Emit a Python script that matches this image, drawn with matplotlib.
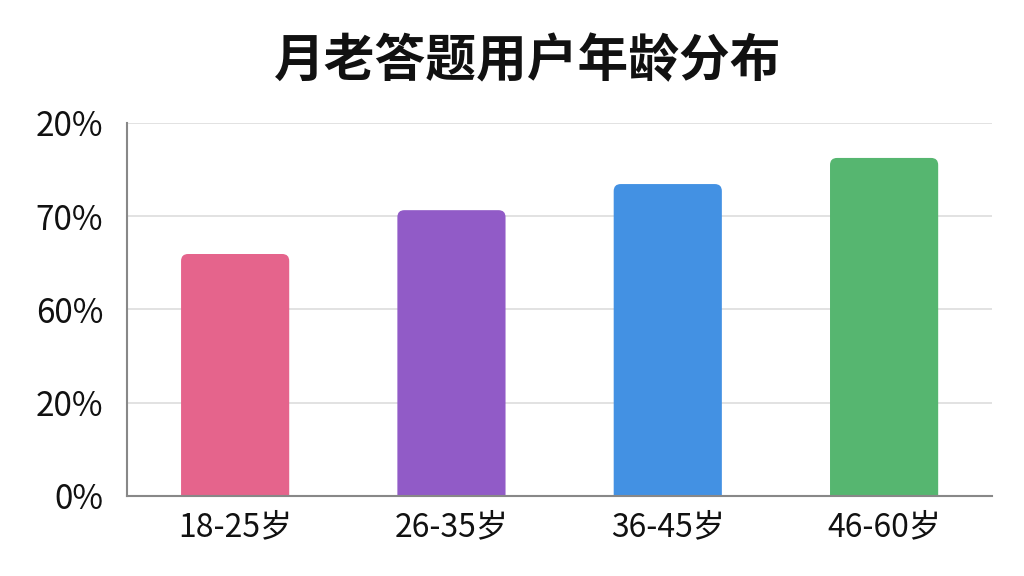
import matplotlib
matplotlib.use("Agg")
import matplotlib.pyplot as plt
from matplotlib.patches import FancyBboxPatch

plt.rcParams['font.family'] = ['Noto Sans CJK SC', 'DejaVu Sans']

categories = ["18-25岁", "26-35岁", "36-45岁", "46-60岁"]
values = [51.9, 61.3, 66.9, 72.5]
colors = ["#E5648C", "#915BC7", "#4391E3", "#56B670"]
tick_positions = [0, 20, 40, 60, 80]
tick_labels = ["0%", "20%", "60%", "70%", "20%"]
title = "月老答题用户年龄分布"

fig = plt.figure(figsize=(10.24, 5.76), dpi=100)
fig.patch.set_facecolor("white")
ax = fig.add_axes([0.124, 0.1389, 0.845, 0.6476])

x = range(len(categories))
bars = ax.bar(x, values, width=0.5, color=colors)
ax.set_xlim(-0.5, len(categories) - 0.5)
ax.set_ylim(0, 80)

fig.canvas.draw()
bb = ax.get_window_extent()
xu = (ax.get_xlim()[1] - ax.get_xlim()[0]) / bb.width
yu = (ax.get_ylim()[1] - ax.get_ylim()[0]) / bb.height
aspect = yu / xu
r = 7 * xu
for b, c in zip(bars, colors):
    b.set_visible(False)
    x0, w, h = b.get_x(), b.get_width(), b.get_height()
    p = FancyBboxPatch((x0, -10), w, h + 10,
                       boxstyle=f"round,pad=0,rounding_size={r}",
                       mutation_aspect=aspect, facecolor=c, edgecolor="none",
                       zorder=3, clip_on=True)
    ax.add_patch(p)

ax.set_yticks(tick_positions)
ax.set_yticklabels(tick_labels, fontsize=24, color="#111111")
ax.set_xticks(list(x))
ax.set_xticklabels(categories, fontsize=23, color="#111111")
ax.tick_params(axis='both', length=0)
ax.tick_params(axis='y', pad=17)
ax.tick_params(axis='x', pad=11)
ax.grid(axis='y', color="#DDDDDD", linewidth=1.2, zorder=0)
ax.set_axisbelow(True)
for s in ["top", "right"]:
    ax.spines[s].set_visible(False)
for s in ["left", "bottom"]:
    ax.spines[s].set_color("#888888")
    ax.spines[s].set_linewidth(1.5)
    ax.spines[s].set_zorder(4)

fig.text(0.515, 0.893, title, ha="center", va="center", fontsize=36.5,
         fontweight="bold", color="#111111")

fig.savefig("out.png", dpi=100, facecolor="white")
